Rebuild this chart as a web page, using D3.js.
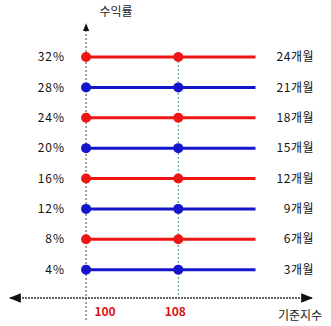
<!DOCTYPE html>
<html><head><meta charset="utf-8">
<script src="https://cdn.jsdelivr.net/npm/d3@7"></script>
<style>body{margin:0;background:#fff}svg{display:block}text{font-family:"Noto Sans CJK KR","Noto Sans",sans-serif}</style>
</head><body><svg id="c" width="331" height="326"></svg>
<script>
const returns = [32, 28, 24, 20, 16, 12, 8, 4];
const periods = ["24개월", "21개월", "18개월", "15개월", "12개월", "9개월", "6개월", "3개월"];
const lineColors = ["red", "blue", "red", "blue", "red", "blue", "red", "blue"];
const indexStart = 100;
const indexMark = 108;
const indexEnd = 114.7;
const xTicks = [100, 108];
const xDomain = [93.4, 119.6];
const yDomain = [0, 32];

const svg = d3.select("#c");
const x = d3.scaleLinear().domain(xDomain).range([10, 312]);
const y = d3.scaleLinear().domain(yDomain).range([300, 57]);
const col = {red: "#ee1515", blue: "#1515cc"};

const defs = svg.append("defs");
defs.append("marker").attr("id", "ar").attr("viewBox", "0 0 10 10").attr("refX", 9).attr("refY", 5)
  .attr("markerWidth", 8).attr("markerHeight", 8).attr("orient", "auto-start-reverse")
  .append("path").attr("d", "M0,1 L10,5 L0,9 Z").attr("fill", "#111");

svg.append("line").attr("x1", x(xDomain[0])).attr("x2", x(xDomain[1])).attr("y1", y(0) - 2).attr("y2", y(0) - 2)
  .attr("stroke", "#333").attr("stroke-width", 1.5).attr("stroke-dasharray", "2,1")
  .attr("marker-start", "url(#ar)").attr("marker-end", "url(#ar)");
svg.append("line").attr("x1", x(indexStart)).attr("x2", x(indexStart)).attr("y1", 320).attr("y2", 24)
  .attr("stroke", "#444").attr("stroke-width", 1).attr("stroke-dasharray", "2,2")
  .attr("marker-end", "url(#ar)");
svg.append("line").attr("x1", x(indexMark)).attr("x2", x(indexMark)).attr("y1", y(32)).attr("y2", y(0) - 2)
  .attr("stroke", "#3a9a8a").attr("stroke-width", 1).attr("stroke-dasharray", "2,2");

const g = svg.append("g");
returns.forEach((r, i) => {
  const c = col[lineColors[i]];
  g.append("line").attr("x1", x(indexStart)).attr("x2", x(indexEnd)).attr("y1", y(r)).attr("y2", y(r))
    .attr("stroke", c).attr("stroke-width", 3);
  [indexStart, indexMark].forEach(v => g.append("circle").attr("cx", x(v)).attr("cy", y(r)).attr("r", 5).attr("fill", c));
  g.append("text").attr("x", 65).attr("y", y(r)).attr("dy", "0.35em").attr("text-anchor", "end")
    .attr("font-size", 12).attr("letter-spacing", 1).attr("fill", "#111").text(r + "%");
  g.append("text").attr("x", 314).attr("y", y(r)).attr("dy", "0.35em").attr("text-anchor", "end")
    .attr("font-size", 12).attr("letter-spacing", 0.5).attr("fill", "#111").text(periods[i]);
});

xTicks.forEach(v => svg.append("text").attr("x", x(v) + (v === indexStart ? 19 : -3)).attr("y", 312).attr("dy", "0.35em")
  .attr("text-anchor", "middle").attr("font-size", 12).attr("font-weight", "bold").attr("fill", "#dd1111").text(v));

svg.append("text").attr("x", 116).attr("y", 12).attr("dy", "0.35em").attr("text-anchor", "middle")
  .attr("font-size", 12).attr("fill", "#222").text("수익률");
svg.append("text").attr("x", 300).attr("y", 316).attr("dy", "0.35em").attr("text-anchor", "middle")
  .attr("font-size", 12).attr("fill", "#222").text("기준지수");
</script></body></html>
